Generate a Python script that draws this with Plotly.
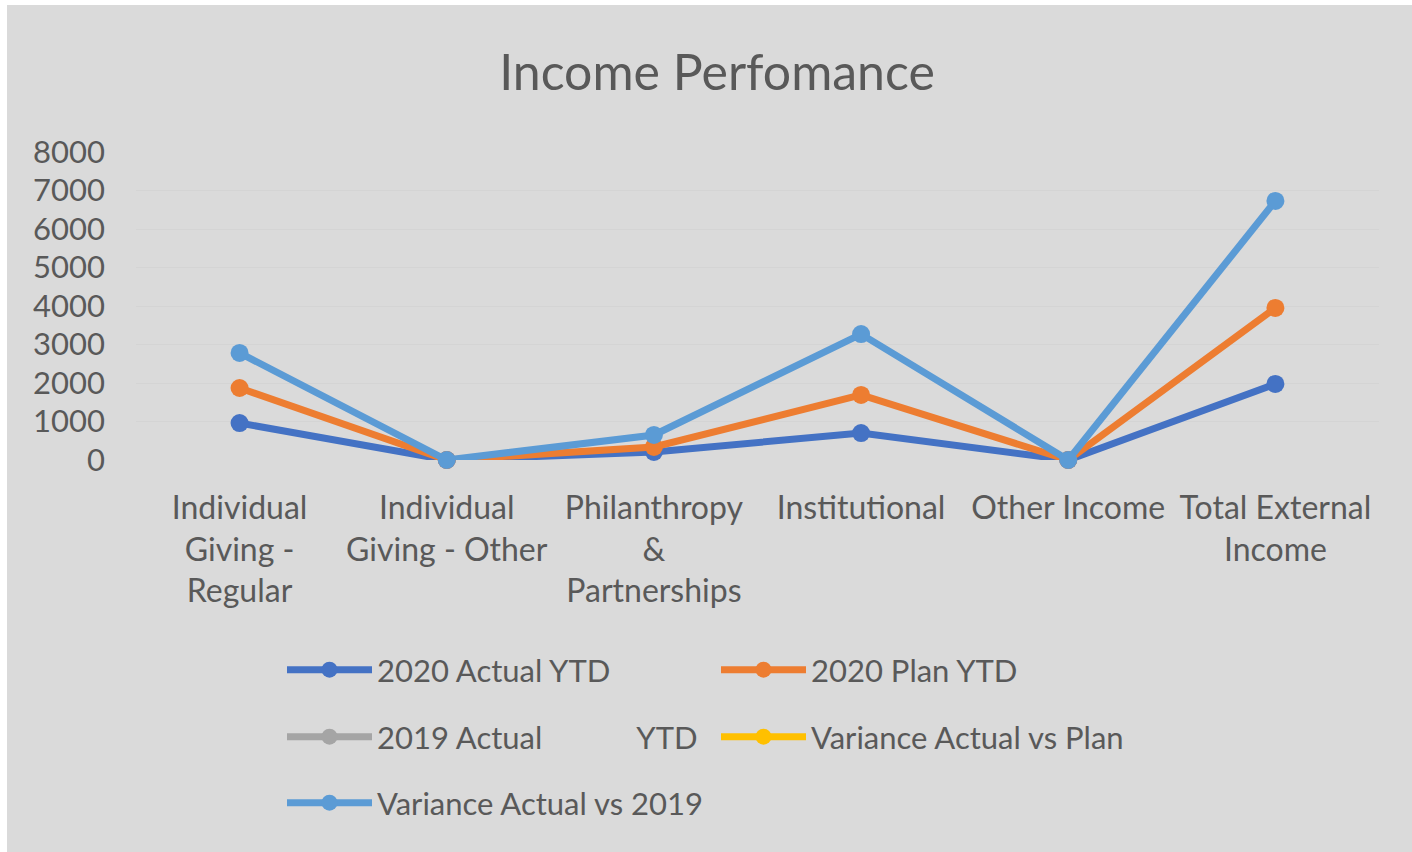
import plotly.graph_objects as go

categories = [
    "Individual<br>Giving -<br>Regular",
    "Individual<br>Giving - Other",
    "Philanthropy<br>&<br>Partnerships",
    "Institutional",
    "Other Income",
    "Total External<br>Income",
]
actual_2020 = [960, 0, 210, 700, 0, 1975]
plan_2020 = [1870, 0, 340, 1690, 0, 3950]
actual_2019 = [None, None, None, None, None, None]
var_vs_plan = [None, None, None, None, None, None]
var_vs_2019 = [2780, 0, 650, 3270, 0, 6730]

series = [
    ("2020 Actual YTD", actual_2020, "#4472C4", "legend"),
    ("2020 Plan YTD", plan_2020, "#ED7D31", "legend"),
    ("2019 Actual" + "\u00a0" * 12 + "YTD", actual_2019, "#A5A5A5", "legend2"),
    ("Variance Actual vs Plan", var_vs_plan, "#FFC000", "legend2"),
    ("Variance Actual vs 2019", var_vs_2019, "#5B9BD5", "legend3"),
]

# page body margin set to 5px top / 7px left; figure coords = reference - (7, 5)
OX, OY = 7, 5
W, H = 1412 - OX, 852
L, T = 136 - OX, 152 - OY
pw, ph = 1243, 308
R, B = W - L - pw, H - T - ph

def px(x):
    return (x - OX - L) / pw

def py(y):
    return (T + ph - (y - OY)) / ph

FONT = "Lato"
TXT = "#595959"

fig = go.Figure()
for name, vals, color, lg in series:
    fig.add_trace(go.Scatter(
        x=categories, y=vals, name=name, mode="lines+markers",
        line=dict(color=color, width=7),
        marker=dict(color=color, size=18),
        cliponaxis=False, legend=lg,
    ))

leg_common = dict(orientation="h", xanchor="left", yanchor="middle",
                  entrywidth=334, entrywidthmode="pixels",
                  font=dict(family=FONT, size=31, color=TXT),
                  bgcolor="rgba(0,0,0,0)", itemwidth=85)

fig.update_layout(
    width=W, height=H,
    margin=dict(l=L, r=R, t=T, b=B),
    paper_bgcolor="#DADADA", plot_bgcolor="#DADADA",
    font=dict(family=FONT, color=TXT),
    title=dict(text="Income Perfomance", x=(717 - OX) / W, xanchor="center",
               y=1 - (72 - OY) / H, yanchor="middle", yref="container",
               font=dict(family=FONT, size=50, color=TXT)),
    xaxis=dict(type="category", range=[-0.5, 5.5], showgrid=False,
               showline=False, zeroline=False, ticks="",
               tickfont=dict(family=FONT, size=32, color=TXT),
               ticklabelstandoff=26),
    yaxis=dict(range=[0, 8000], dtick=1000, showgrid=True,
               gridcolor="#D4D4D4", gridwidth=1, zeroline=False,
               showline=False, ticks="",
               tickfont=dict(family=FONT, size=31, color=TXT),
               ticklabelstandoff=30),
    legend=dict(x=px(282), y=py(670), **leg_common),
    legend2=dict(x=px(282), y=py(737), **leg_common),
    legend3=dict(x=px(282), y=py(803), **leg_common),
)

fig.write_html(
    "out.html",
    post_script="document.body.style.margin='5px 0 0 7px';"
                "document.body.style.overflow='hidden';",
)
